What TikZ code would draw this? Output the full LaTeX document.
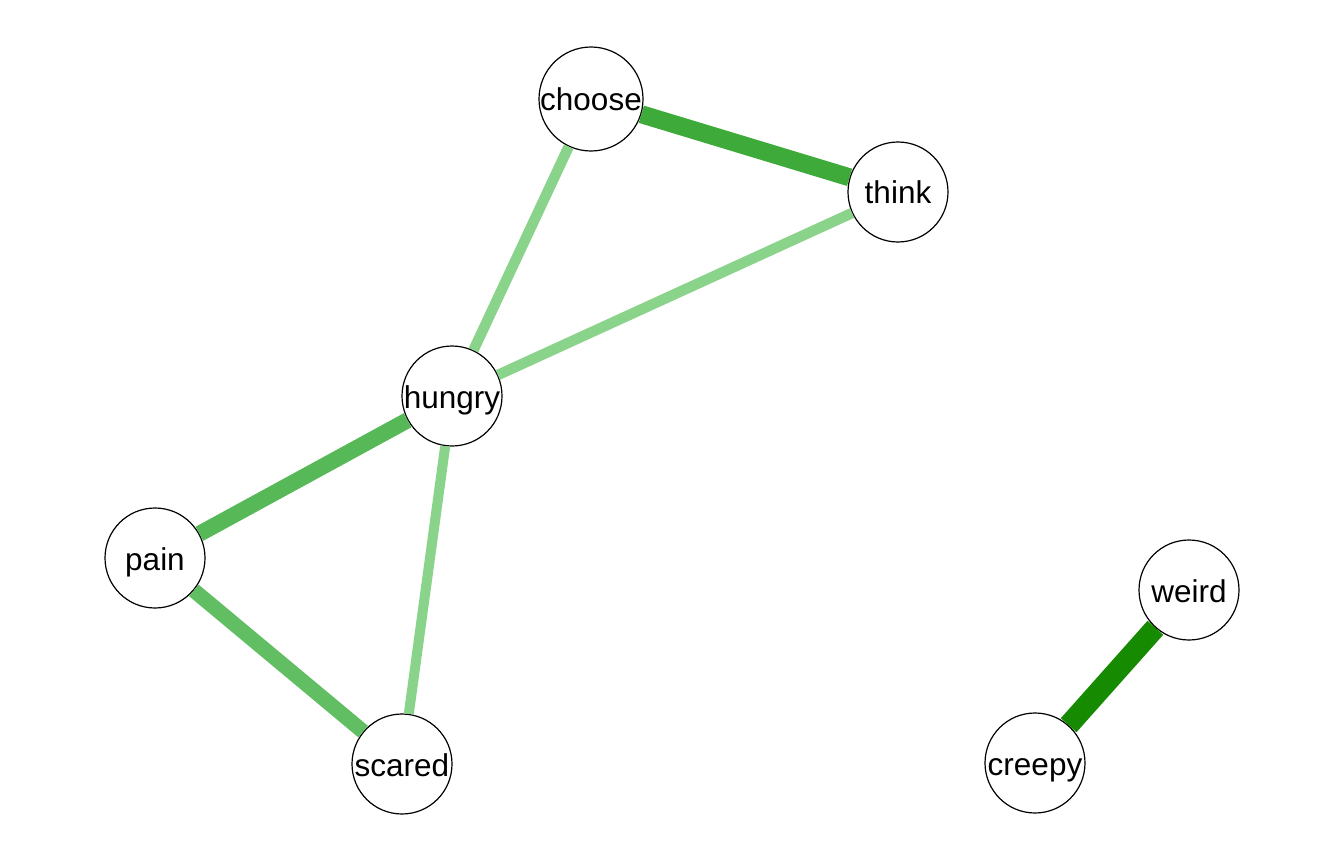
\documentclass[tikz,border=0pt]{standalone}
\usepackage{fontspec}
\setmainfont{Liberation Sans}
\usepackage{tikz}
\usetikzlibrary{positioning}
\definecolor{edgeDark}{RGB}{22, 138, 0}
\definecolor{edgeMid}{RGB}{61, 170, 58}
\definecolor{edgeMidLight}{RGB}{87, 184, 87}
\definecolor{edgePale}{RGB}{98, 190, 98}
\definecolor{edgeLight}{RGB}{138, 211, 138}

\begin{document}
\begin{tikzpicture}[
            x=1pt, y=-1pt,
            font=\fontsize{31.5}{33}\selectfont,
            % Styles
            word/.style={
                circle, draw=black, line width=1.2pt, fill=white, inner sep=0pt, minimum size=100pt,
                text height=24pt, text depth=0pt
            },
            link/.style={
                line cap=butt
            }
        ]

            \useasboundingbox (0,0) rectangle (1344,864);

            % --- Nodes ---
            \node[word] (choose) at (591,99) {choose};
            \node[word] (think) at (898,192) {think};
            \node[word] (hungry) at (452,396) {hungry};
            \node[word] (pain) at (155,558) {pain};
            \node[word] (scared) at (402,764) {scared};
            \node[word] (weird) at (1189,590) {weird};
            \node[word] (creepy) at (1035,763) {creepy};

            % --- Edges ---
            \draw[link, edgeMid, line width=18pt] (choose) -- (think);
            \draw[link, edgeLight, line width=10.5pt] (choose) -- (hungry);
            \draw[link, edgeLight, line width=10.5pt] (think) -- (hungry);
            \draw[link, edgeMidLight, line width=16pt] (hungry) -- (pain);
            \draw[link, edgePale, line width=15pt] (pain) -- (scared);
            \draw[link, edgeLight, line width=10pt] (hungry) -- (scared);
            \draw[link, edgeDark, line width=21pt] (weird) -- (creepy);

        \end{tikzpicture}
\end{document}
